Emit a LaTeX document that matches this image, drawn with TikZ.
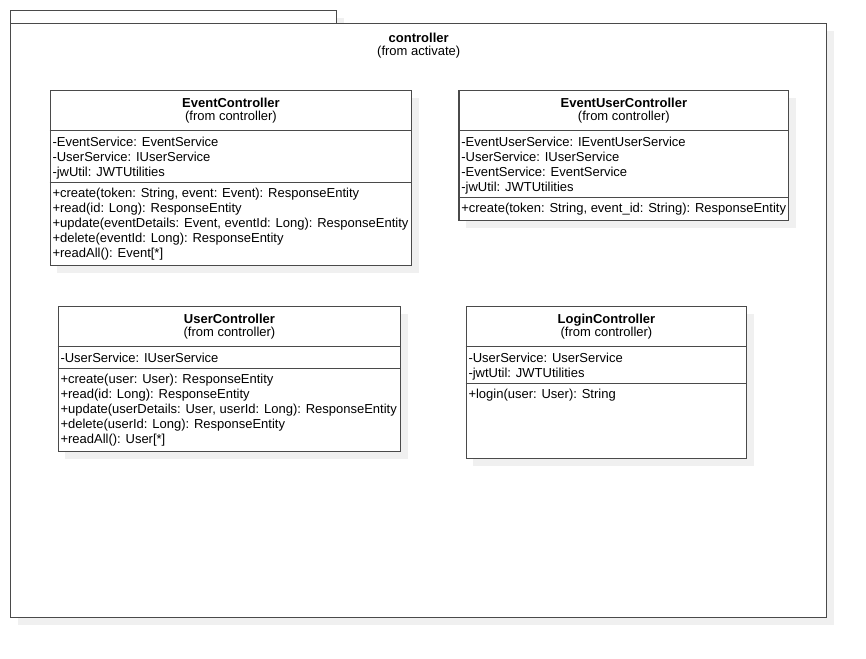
\documentclass[tikz,border=0pt]{standalone}
\usepackage{fontspec}
\setmainfont{Liberation Sans}
\usetikzlibrary{shadows,calc}
\definecolor{bord}{RGB}{74,74,74}
\definecolor{shad}{RGB}{240,240,240}
\tikzset{
  boxbase/.style={draw=bord, line width=1.4pt, fill=white, rectangle, inner sep=0pt,
    drop shadow={shadow xshift=7pt, shadow yshift=-7pt, fill=shad, opacity=1}},
  cls/.style={boxbase},
  pkg/.style={boxbase},
  sepl/.style={draw=bord, line width=1.4pt},
  mem/.style={inner sep=0pt, anchor=base west, font=\fontsize{13}{15}\selectfont},
  ttl/.style={inner sep=0pt, anchor=base, font=\fontsize{13}{15}\selectfont\bfseries},
  subt/.style={inner sep=0pt, anchor=base, font=\fontsize{13}{15}\selectfont},
}
\newcommand\umlclass[9]{%
  \node[cls, minimum width=#4pt, minimum height=#5pt, anchor=north west] (#1) at (#2,#3) {};
  \node[ttl] (#1-t) at ($(#1.north)+(0,17)$) {#6};
  \node[subt] (#1-f) at ($(#1.north)+(0,30.5)$) {(from controller)};
  \draw[sepl] ($(#1.north west)+(0,40.5)$) -- ($(#1.north east)+(0,40.5)$);
  \foreach \s [count=\i] in {#8} \node[mem] (#1-a\i) at ($(#1.north west)+(2.8,{56+15*(\i-1)})$) {\s};
  \draw[sepl] ($(#1.north west)+(0,{47.5+15*#7})$) -- ($(#1.north east)+(0,{47.5+15*#7})$);
  \foreach \s [count=\i] in {#9} \node[mem] (#1-m\i) at ($(#1.north west)+(2.8,{62+15*#7+15*(\i-1)})$) {\s};
}
\begin{document}
\begin{tikzpicture}[x=1pt,y=-1pt]
\useasboundingbox (0,0) rectangle (866,658);
\node[pkg, minimum width=326pt, minimum height=13pt, anchor=north west] (tab) at (10,10) {};
\node[pkg, minimum width=816pt, minimum height=594pt, anchor=north west] (pkgbody) at (10,23) {};
\node[ttl] (pkg-t) at ($(pkgbody.north)+(0,20)$) {controller};
\node[subt] (pkg-f) at ($(pkgbody.north)+(0,33)$) {(from activate)};

\umlclass{ec}{49.5}{90}{361.5}{175}{EventController}{3}%
  {{-EventService: EventService},{-UserService: IUserService},{-jwUtil: JWTUtilities}}%
  {{+create(token: String, event: Event): ResponseEntity},{+read(id: Long): ResponseEntity},{+update(eventDetails: Event, eventId: Long): ResponseEntity},{+delete(eventId: Long): ResponseEntity},{+readAll(): Event[*]}}

\umlclass{euc}{458.3}{90}{329.7}{130}{EventUserController}{4}%
  {{-EventUserService: IEventUserService},{-UserService: IUserService},{-EventService: EventService},{-jwUtil: JWTUtilities}}%
  {{+create(token: String, event\_id: String): ResponseEntity}}

\umlclass{uc}{57.5}{306}{342.5}{145}{UserController}{1}%
  {{-UserService: IUserService}}%
  {{+create(user: User): ResponseEntity},{+read(id: Long): ResponseEntity},{+update(userDetails: User, userId: Long): ResponseEntity},{+delete(userId: Long): ResponseEntity},{+readAll(): User[*]}}

\umlclass{lc}{465.5}{306}{280.5}{152}{LoginController}{2}%
  {{-UserService: UserService},{-jwtUtil: JWTUtilities}}%
  {{+login(user: User): String}}
\end{tikzpicture}
\end{document}
